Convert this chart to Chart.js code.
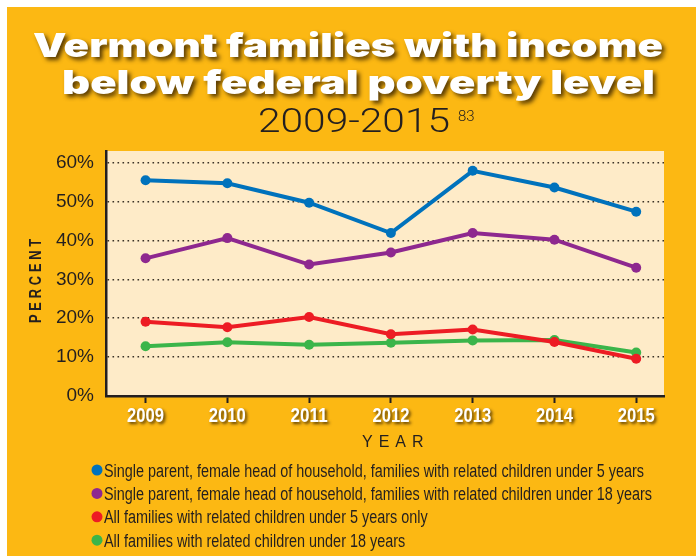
<!DOCTYPE html>
<html>
<head>
<meta charset="utf-8">
<script src="https://cdn.jsdelivr.net/npm/chart.js@4"></script>
<style>
  html, body { margin: 0; padding: 0; background: #fff; }
  canvas { display: block; }
</style>
</head>
<body>
<canvas id="chart" width="696" height="556"></canvas>
<script>
// Data
const years = [2009, 2010, 2011, 2012, 2013, 2014, 2015];
const percentTicks = [0, 10, 20, 30, 40, 50, 60];
const seriesLabels = [
    'Single parent, female head of household, families with related children under 5 years',
    'Single parent, female head of household, families with related children under 18 years',
    'All families with related children under 5 years only',
    'All families with related children under 18 years'
];
const singleUnder5  = [55.5, 54.7, 49.7, 41.9, 57.9, 53.6, 47.4];
const singleUnder18 = [35.4, 40.6, 33.8, 36.9, 41.9, 40.2, 33.0];
const allUnder5     = [19.1, 17.7, 20.3, 15.9, 17.1, 13.9, 9.6];
const allUnder18    = [12.8, 13.8, 13.2, 13.7, 14.3, 14.4, 11.2];
const seriesColors  = ['#0072bc', '#8e288f', '#ed1c24', '#3bb54a'];

const sans = '"Liberation Sans", sans-serif';
const ink = '#231f20';

// helpers
function fitText(ctx, text, left, baseline, width) {
    const w = ctx.measureText(text).width;
    ctx.save();
    ctx.translate(left, baseline);
    ctx.scale(width / w, 1);
    ctx.fillText(text, 0, 0);
    ctx.restore();
}
function squeezeText(ctx, text, x, baseline, k) {
    ctx.save();
    ctx.translate(x, baseline);
    ctx.scale(k, 1);
    ctx.fillText(text, 0, 0);
    ctx.restore();
}
function shadowOn(ctx, blur, off) {
    ctx.shadowColor = 'rgba(60, 38, 0, 0.85)';
    ctx.shadowBlur = blur;
    ctx.shadowOffsetX = off;
    ctx.shadowOffsetY = off;
}

// orange card, cream plot, titles, year labels, legend
const decor = {
    id: 'decor',
    beforeDraw(chart) {
        const {ctx, chartArea: a} = chart;
        ctx.save();
        ctx.fillStyle = '#fcb813';
        ctx.fillRect(7, 7, chart.width - 7, chart.height - 7);
        ctx.fillStyle = '#feebc8';
        ctx.fillRect(a.left, a.top, a.right - a.left, a.bottom - a.top);
        ctx.restore();
    },
    afterDraw(chart) {
        const ctx = chart.ctx;
        ctx.save();
        ctx.textAlign = 'left';
        ctx.textBaseline = 'alphabetic';

        // main title
        ctx.fillStyle = '#ffffff';
        ctx.font = '900 33px Inter, "DejaVu Sans", sans-serif';
        shadowOn(ctx, 4, 3);
        fitText(ctx, 'Vermont families with income', 33, 57, 630);
        fitText(ctx, 'below federal poverty level', 62, 94, 593);

        // year range
        ctx.shadowColor = 'transparent';
        ctx.fillStyle = ink;
        ctx.font = '300 34px Roboto, "Liberation Sans", sans-serif';
        fitText(ctx, '2009-2015', 258, 132, 192);
        ctx.font = '300 15px Roboto, "Liberation Sans", sans-serif';
        ctx.fillText('83', 458, 121);

        // x labels, condensed white with shadow
        const xs = chart.scales.x;
        ctx.fillStyle = '#ffffff';
        ctx.font = 'bold 20px ' + sans;
        shadowOn(ctx, 3, 2);
        xs.ticks.forEach(t => {
            const label = String(t.value);
            const w = 37;
            fitText(ctx, label, xs.getPixelForValue(t.value) - w / 2, 422, w);
        });

        // axis titles
        ctx.shadowColor = 'transparent';
        ctx.fillStyle = ink;
        ctx.letterSpacing = '6px';
        ctx.font = '16px ' + sans;
        ctx.fillText('YEAR', 362, 447);
        ctx.save();
        ctx.translate(41, 323);
        ctx.rotate(-Math.PI / 2);
        ctx.letterSpacing = '5px';
        ctx.font = 'bold 17px ' + sans;
        fitText(ctx, 'PERCENT', 0, 0, 88);
        ctx.restore();
        ctx.letterSpacing = '0px';

        // legend
        ctx.font = '18px ' + sans;
        const k = 540 / ctx.measureText(seriesLabels[0]).width;
        chart.data.datasets.forEach((ds, i) => {
            const y = 470 + i * 23.4;
            ctx.fillStyle = ds.borderColor;
            ctx.beginPath();
            ctx.arc(97, y, 5.5, 0, Math.PI * 2);
            ctx.fill();
            ctx.fillStyle = ink;
            squeezeText(ctx, ds.label, 104, y + 6.5, k);
        });
        ctx.restore();
    }
};

const seriesValues = [singleUnder5, singleUnder18, allUnder5, allUnder18];

const data = {
    datasets: seriesValues.map((vals, i) => ({
        label: seriesLabels[i],
        data: years.map((yr, j) => ({x: yr, y: vals[j]})),
        borderColor: seriesColors[i],
        backgroundColor: seriesColors[i],
        borderWidth: 4,
        pointRadius: 5,
        pointBorderWidth: 0,
        pointBackgroundColor: seriesColors[i],
        tension: 0
    }))
};

const config = {
    type: 'line',
    data,
    options: {
        responsive: false,
        animation: false,
        layout: { padding: { top: 151, right: 32, bottom: 100, left: 0 } },
        plugins: {
            legend: { display: false },
            tooltip: { enabled: false },
            title: { display: false }
        },
        scales: {
            x: {
                type: 'linear',
                min: 2008.516,
                max: 2015.34,
                afterBuildTicks: s => { s.ticks = years.map(v => ({value: v})); },
                afterFit: s => { s.height = 60; },
                ticks: {
                    color: 'rgba(0,0,0,0)',
                    font: { family: sans, size: 20, weight: 'bold' },
                    callback: v => String(v)
                },
                grid: {
                    drawOnChartArea: false,
                    tickLength: 7,
                    tickColor: ink,
                    tickWidth: 2
                },
                border: { display: true, color: ink, width: 2.5 }
            },
            y: {
                min: 0,
                max: 63,
                afterBuildTicks: s => { s.ticks = percentTicks.map(v => ({value: v})); },
                afterFit: s => { s.width = 106; },
                ticks: {
                    padding: 12,
                    color: ink,
                    font: { family: sans, size: 19 },
                    callback: v => v + '%'
                },
                grid: {
                    drawTicks: false,
                    color: c => c.tick && c.tick.value === 0 ? 'rgba(0,0,0,0)' : '#3a3226',
                    lineWidth: 1.6
                },
                border: { display: true, color: ink, width: 2.5, dash: [1.6, 3.4] }
            }
        }
    },
    plugins: [decor]
};

const myChart = new Chart(document.getElementById('chart'), config);
</script>
</body>
</html>
